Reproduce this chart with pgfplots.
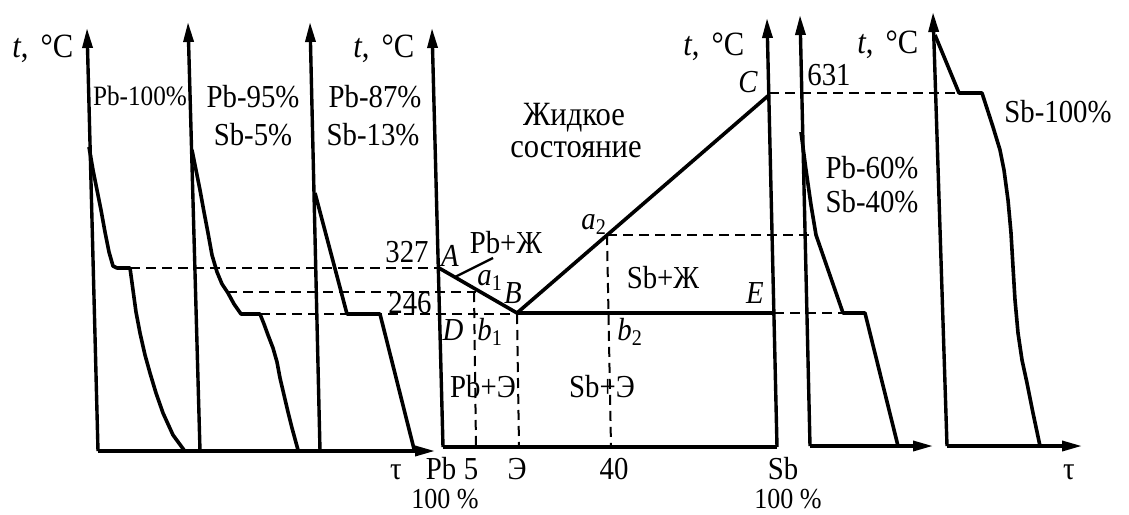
\documentclass[border=0pt]{standalone}
\usepackage{fontspec}
\setmainfont[FakeStretch=0.9]{Liberation Serif}
\usepackage{pgfplots}
\pgfplotsset{compat=1.18}
\usetikzlibrary{arrows.meta}

\tikzset{
  ax/.style={line width=1.7pt, -{Triangle[length=10pt,width=5pt]}},
  curve/.style={line width=1.8pt, line join=round},
  guide/.style={line width=1pt, dash pattern=on 5pt off 3pt},
  lbl/.style={anchor=base, inner sep=0pt},
  lblw/.style={anchor=base west, inner sep=0pt},
}

\begin{document}
\begin{tikzpicture}[font=\fontsize{16}{18}\selectfont]
\begin{axis}[
  x=0.5pt, y=0.5pt, y dir=reverse,
  xmin=0, xmax=1129, ymin=0, ymax=514,
  hide axis, clip=false,
]
\path (axis cs:0,0) (axis cs:1129,514);

% ---- time axes of the cooling curves (left group) ----
\addplot[ax] coordinates {(98,451) (87,28)};
\addplot[ax] coordinates {(98,451) (435,451)};
\addplot[ax] coordinates {(200,451) (188,22)};
\addplot[ax] coordinates {(320,451) (310,22)};

% ---- phase diagram frame ----
\addplot[ax] coordinates {(443,447) (432,28)};
\addplot[curve] coordinates {(443,447) (777,447)};
\addplot[ax] coordinates {(777,447) (767,18)};

% ---- time axes of the cooling curves (right group) ----
\addplot[ax] coordinates {(810,446) (800,15)};
\addplot[ax] coordinates {(810,446) (933,446)};
\addplot[ax] coordinates {(947,446) (933,12)};
\addplot[ax] coordinates {(947,446) (1082,446)};

% ---- liquidus and solidus ----
\addplot[curve] coordinates {(439,268) (517,313) (769,95)};
\addplot[curve] coordinates {(517,313) (774,313)};
\addplot[line width=1.2pt] coordinates {(455,277) (493,258)};

% ---- guide lines ----
\addplot[guide] coordinates {(130,268) (439,268)};
\addplot[guide] coordinates {(227,292) (476,292)};
\addplot[guide] coordinates {(260,314) (517,314)};
\addplot[guide] coordinates {(474,292) (476,447)};
\addplot[guide] coordinates {(517,314) (519,447)};
\addplot[guide] coordinates {(607,235) (611,447)};
\addplot[guide] coordinates {(607,235) (815,235)};
\addplot[guide] coordinates {(774,313) (843,313)};
\addplot[guide] coordinates {(769,93) (960,93)};

% ---- cooling curves ----
% Pb 100%
\addplot[curve] coordinates {(89,147) (93,170) (97,190) (101,210) (105,232)
  (109,252) (113,266) (117,268) (130,268) (133,290) (136,312) (140,333)
  (145,355) (150,373) (156,393) (163,413) (173,435) (184,450)};
% Pb 95%, Sb 5%
\addplot[curve] coordinates {(192,150) (196,170) (200,190) (204,212) (208,233)
  (212,255) (217,272) (222,284) (228,293) (234,304) (241,314) (260,314)
  (264,324) (268,335) (273,348) (277,362) (280,378) (284,395) (288,412)
  (292,428) (298,450)};
% Pb 87%, Sb 13%
\addplot[curve] coordinates {(315,193) (347,314) (380,314) (414,449)};
% Pb 60%, Sb 40%
\addplot[curve] coordinates {(801,132) (806,170) (811,205) (816,235)
  (843,313) (865,313) (898,446)};
% Sb 100%
\addplot[curve] coordinates {(935,35) (959,93) (982,93) (993,127) (1000,150)
  (1004,170) (1008,200) (1011,233) (1013,267) (1015,300) (1018,333)
  (1022,360) (1027,383) (1033,413) (1040,446)};

% ---- labels ----
\node[lblw, font=\fontsize{17}{18}\selectfont] at (axis cs:12,57) {\textit{t},\hspace{6pt}°C};
\node[lblw, font=\fontsize{17}{18}\selectfont] at (axis cs:353,57) {\textit{t},\hspace{6pt}°C};
\node[lblw, font=\fontsize{17}{18}\selectfont] at (axis cs:683,55) {\textit{t},\hspace{6pt}°C};
\node[lblw, font=\fontsize{17}{18}\selectfont] at (axis cs:857,53) {\textit{t},\hspace{6pt}°C};

\node[lbl, font=\fontsize{14}{16}\selectfont] at (axis cs:140,105) {Pb-100\%};
\node[lbl] at (axis cs:253,107) {Pb-95\%};
\node[lbl] at (axis cs:253,145) {Sb-5\%};
\node[lbl] at (axis cs:375,107) {Pb-87\%};
\node[lbl] at (axis cs:373,145) {Sb-13\%};
\node[lbl] at (axis cs:872,178) {Pb-60\%};
\node[lbl] at (axis cs:872,212) {Sb-40\%};
\node[lbl] at (axis cs:1058,122) {Sb-100\%};

\node[lbl] at (axis cs:407,262) {327};
\node[lbl] at (axis cs:410,313) {246};
\node[lbl] at (axis cs:829,85) {631};

\node[lbl] at (axis cs:450,266) {\textit{A}};
\node[lbl] at (axis cs:513,303) {\textit{B}};
\node[lbl] at (axis cs:748,92) {\textit{C}};
\node[lbl] at (axis cs:453,340) {\textit{D}};
\node[lbl] at (axis cs:755,303) {\textit{E}};
\node[lblw] at (axis cs:477,285) {\textit{a}\textsubscript{1}};
\node[lblw] at (axis cs:477,340) {\textit{b}\textsubscript{1}};
\node[lblw] at (axis cs:581,229) {\textit{a}\textsubscript{2}};
\node[lblw] at (axis cs:617,340) {\textit{b}\textsubscript{2}};

\node[lbl, font=\fontsize{17}{18}\selectfont] at (axis cs:574,125) {Жидкое};
\node[lbl, font=\fontsize{17}{18}\selectfont] at (axis cs:576,157) {состояние};
\node[lbl] at (axis cs:506,253) {Pb+Ж};
\node[lbl] at (axis cs:663,288) {Sb+Ж};
\node[lbl] at (axis cs:483,397) {Pb+Э};
\node[lbl] at (axis cs:602,397) {Sb+Э};

% composition scale under the diagram
\node[lbl] at (axis cs:396,479) {τ};
\node[lbl] at (axis cs:441,479) {Pb};
\node[lbl] at (axis cs:471,479) {5};
\node[lbl] at (axis cs:517,479) {Э};
\node[lbl] at (axis cs:614,479) {40};
\node[lbl] at (axis cs:783,479) {Sb};
\node[lbl, font=\fontsize{14.5}{16}\selectfont] at (axis cs:445,508) {100 \%};
\node[lbl, font=\fontsize{14.5}{16}\selectfont] at (axis cs:788,508) {100 \%};
\node[lbl] at (axis cs:1069,479) {τ};
\end{axis}
\end{tikzpicture}
\end{document}
